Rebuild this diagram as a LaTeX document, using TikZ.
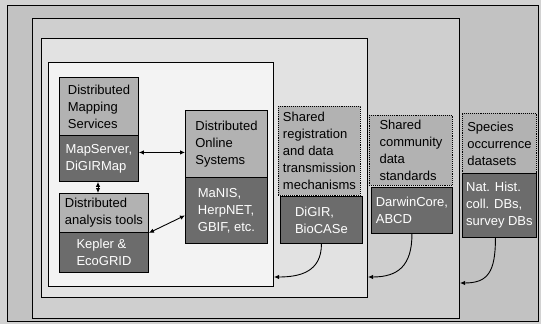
\documentclass[tikz,border=0pt]{standalone}
\usepackage{fontspec}
\setmainfont{Liberation Sans}
\usetikzlibrary{arrows.meta}

\definecolor{margin}{HTML}{D2D2D2}
\definecolor{layerA}{HTML}{C2C2C2}
\definecolor{layerB}{HTML}{CFCFCF}
\definecolor{layerC}{HTML}{E2E2E2}
\definecolor{core}{HTML}{F3F3F3}
\definecolor{topicfill}{HTML}{B2B2B2}
\definecolor{toolfill}{HTML}{6C6C6C}

\begin{document}
\begin{tikzpicture}[x=1pt,y=-1pt,
  layer/.style={draw=black, line width=1pt, anchor=north west, inner sep=0pt},
  topic/.style={draw=black, line width=0.9pt, fill=topicfill, anchor=north west,
    inner sep=0pt, align=left, font=\fontsize{13}{17}\selectfont},
  dottopic/.style={topic, densely dotted},
  tool/.style={topic, fill=toolfill, text=white},
  link/.style={{Latex[length=5pt,width=4.5pt]}-{Latex[length=5pt,width=4.5pt]}, line width=0.9pt},
  feed/.style={-{Latex[length=5pt,width=4.5pt]}, line width=0.9pt}]

\useasboundingbox (0,0) rectangle (541,324);
\fill[margin] (0,0) rectangle (541,324);

% nested layers
\node[layer, line width=1.4pt, fill=layerA, minimum width=531pt, minimum height=316pt] (frame) at (7,5) {};
\node[layer, fill=layerB, minimum width=427pt, minimum height=300pt] (boxA) at (32,18) {};
\node[layer, fill=layerC, minimum width=326pt, minimum height=259pt] (boxB) at (41,38) {};
\node[layer, fill=core, minimum width=225pt, minimum height=224pt] (boxC) at (48,62) {};

% distributed services
\node[topic, minimum width=79pt, minimum height=58pt] (mapL) at (59,77) {Distributed\\Mapping\\Services};
\node[tool, minimum width=79pt, minimum height=46pt] (mapD) at (59,135) {MapServer,\\DiGIRMap};

\node[topic, minimum width=89pt, minimum height=39pt] (anaL) at (59,193) {Distributed\\analysis tools};
\node[tool, minimum width=89pt, minimum height=40pt] (anaD) at (59,232) {Kepler \&\\EcoGRID};

\node[topic, minimum width=82pt, minimum height=67pt] (onL) at (185,110) {Distributed\\Online\\Systems};
\node[tool, minimum width=82pt, minimum height=66pt] (onD) at (185,177) {MaNIS,\\HerpNET,\\GBIF, etc.};

% shared layers
\node[dottopic, minimum width=82pt, minimum height=89pt] (regL) at (278,106) {Shared\\registration\\and data\\transmission\\mechanisms};
\node[tool, minimum width=82pt, minimum height=47pt] (regD) at (280,196) {DiGIR,\\BioCASe};

\node[dottopic, minimum width=83pt, minimum height=70pt] (comL) at (369,115) {Shared\\community\\data\\standards};
\node[tool, minimum width=81pt, minimum height=46pt] (comD) at (371,187) {DarwinCore,\\ABCD};

\node[dottopic, minimum width=74pt, minimum height=60pt] (speL) at (462,113) {Species\\occurrence\\datasets};
\node[tool, minimum width=74pt, minimum height=64pt] (speD) at (462,173) {Nat. Hist.\\coll. DBs,\\survey DBs};

% links between services
\draw[link] ([yshift=6pt]mapD.east) -- ([yshift=6pt]mapD.east -| onL.west);
\draw[link] (mapD.south -| 98,0) -- (anaL.north -| 98,0);
\draw[link] (anaL.south east) -- ([yshift=-5pt]onD.west);

% each layer feeds the one inside it
\draw[feed] (regD.south) .. controls +(0,28) and +(26,0) .. (boxC.east |- 0,277);
\draw[feed] (comD.south) .. controls +(0,32) and +(30,0) .. (boxB.east |- 0,277);
\draw[feed] ([xshift=-4pt]speD.south) .. controls +(0,34) and +(28,0) .. (boxA.east |- 0,283);
\end{tikzpicture}
\end{document}
